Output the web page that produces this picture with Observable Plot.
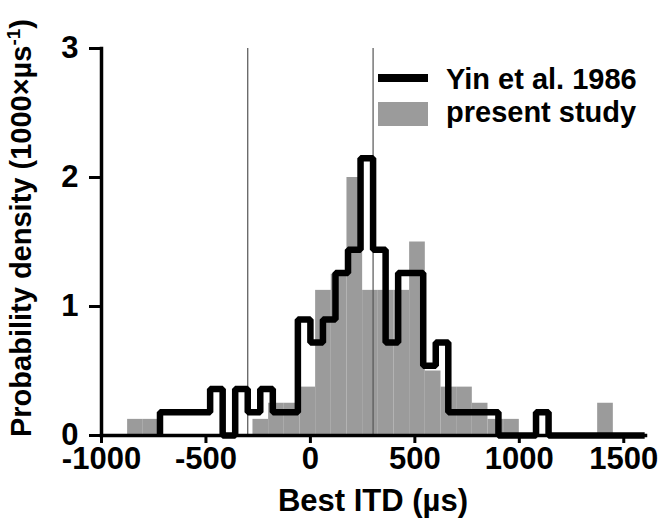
<!DOCTYPE html>
<html><head><meta charset="utf-8">
<script src="https://cdn.jsdelivr.net/npm/d3@7"></script>
<script src="https://cdn.jsdelivr.net/npm/@observablehq/plot@0.6"></script>
<style>
body{margin:0;background:#fff;}
#chart{position:relative;width:661px;height:523px;}
</style></head><body><div id="chart"></div>
<script>
// present study histogram (bin starts, µs) and densities (1000×µs^-1)
const presentBinStart = [-875, -800, -275, -200, -125, -50, 25, 100, 175, 250, 325, 400, 475, 550, 625, 700, 775, 850, 925, 1375];
const presentDensity  = [0.125, 0.125, 0.125, 0.25, 0.25, 0.375, 1.125, 1.25, 2.0, 1.125, 1.125, 1.125, 1.5, 0.5, 0.375, 0.375, 0.25, 0.125, 0.125, 0.25];
const presentBinWidth = 75;
// Yin et al. 1986 histogram: bin edges (µs) and densities per bin
const yinEdges   = [-720, -480, -420, -360, -300, -240, -180, -60, 0, 60, 120, 180, 240, 300, 360, 420, 540, 600, 660, 900, 1080, 1140, 1600];
const yinDensity = [0.18, 0.36, 0, 0.36, 0.18, 0.36, 0.18, 0.9, 0.72, 0.9, 1.26, 1.44, 2.15, 1.44, 0.72, 1.26, 0.54, 0.72, 0.18, 0, 0.18, 0];
const xTicks = [-1000, -500, 0, 500, 1000, 1500];
const yTicks = [0, 1, 2, 3];
const refLines = [-300, 300];
const xDomain = [-1000, 1604];
const yDomain = [0, 3];
const legendLabels = ["Yin et al. 1986", "present study"];
const xLabel = "Best ITD (µs)";
const yLabelMain = "Probability density (1000×µs";
const yLabelSup = "-1";
const yLabelEnd = ")";

const FONT = "'Liberation Sans', Arial, Helvetica, sans-serif";
const GRAY = "#9b9b9b";

const presentBins = presentBinStart.map((s, i) => ({x1: s, x2: s + presentBinWidth, density: presentDensity[i]}));
const yinPoints = [{x: yinEdges[0], y: 0}]
  .concat(yinDensity.map((d, i) => ({x: yinEdges[i], y: d})))
  .concat([{x: yinEdges[yinEdges.length - 1], y: 0}]);

const fmt = d => String(d);

const plot = Plot.plot({
  width: 661, height: 523,
  marginLeft: 101, marginRight: 16, marginTop: 48, marginBottom: 88,
  style: {fontFamily: FONT, color: "black", background: "white", overflow: "visible"},
  x: {domain: xDomain},
  y: {domain: yDomain},
  marks: [
    Plot.rectY(presentBins, {x1: "x1", x2: "x2", y: "density", fill: GRAY, insetLeft: 0, insetRight: 0}),
    Plot.ruleX(refLines, {stroke: "#555", strokeWidth: 1.2}),
    Plot.line(yinPoints, {x: "x", y: "y", curve: "step-after", stroke: "black", strokeWidth: 6.5, strokeLinejoin: "miter", strokeLinecap: "butt"}),
    Plot.frame({anchor: "left", stroke: "black", strokeWidth: 3.5}),
    Plot.frame({anchor: "bottom", stroke: "black", strokeWidth: 3.5}),
    Plot.axisX(xTicks, {tickSize: 8, strokeWidth: 3, tickPadding: 3, fontSize: 31, fontWeight: "bold", tickFormat: fmt, label: null}),
    Plot.axisY(yTicks, {tickSize: 12, strokeWidth: 3, tickPadding: 11, fontSize: 31, fontWeight: "bold", tickFormat: fmt, label: null})
  ]
});

const svg = d3.select(plot);
// x label
svg.append("text")
  .attr("x", 373).attr("y", 511)
  .attr("text-anchor", "middle")
  .attr("font-family", FONT).attr("font-weight", "bold").attr("font-size", 31)
  .attr("fill", "black")
  .text(xLabel);
// y label
const yl = svg.append("text")
  .attr("transform", "translate(31,228) rotate(-90)")
  .attr("text-anchor", "middle")
  .attr("font-family", FONT).attr("font-weight", "bold").attr("font-size", 29)
  .attr("fill", "black");
yl.append("tspan").text(yLabelMain);
yl.append("tspan").attr("font-size", 19).attr("dy", -11).text(yLabelSup);
yl.append("tspan").attr("dy", 11).text(yLabelEnd);
// legend
const lg = svg.append("g");
lg.append("line").attr("x1", 378).attr("x2", 428).attr("y1", 78).attr("y2", 78)
  .attr("stroke", "black").attr("stroke-width", 8);
lg.append("rect").attr("x", 378).attr("y", 102).attr("width", 50).attr("height", 24).attr("fill", GRAY);
legendLabels.forEach((t, i) => {
  lg.append("text").attr("x", 446).attr("y", 89 + i * 33)
    .attr("text-anchor", "start")
    .attr("font-family", FONT).attr("font-weight", "bold").attr("font-size", 29)
    .attr("fill", "black").text(t);
});

document.getElementById("chart").appendChild(plot);
</script>
</body></html>
